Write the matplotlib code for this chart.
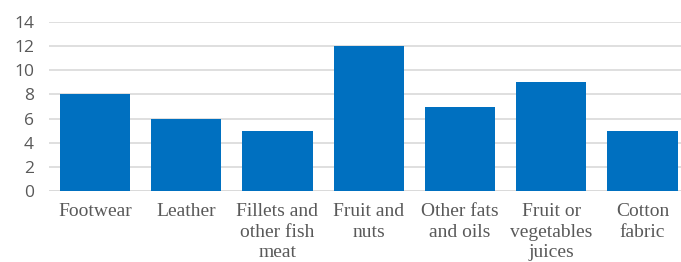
import matplotlib
matplotlib.use("Agg")
import matplotlib.pyplot as plt

categories = ["Footwear", "Leather", "Fillets and\nother fish\nmeat", "Fruit and\nnuts",
              "Other fats\nand oils", "Fruit or\nvegetables\njuices", "Cotton\nfabric"]
values = [8, 6, 5, 12, 7, 9, 5]
yticks = [0, 2, 4, 6, 8, 10, 12, 14]

W, H = 681, 262
fig = plt.figure(figsize=(W / 100, H / 100), dpi=100)
left, right = 49.4, 688.0
top, bottom = 22.0, 191.0
ax = fig.add_axes([left / W, 1 - bottom / H, (right - left) / W, (bottom - top) / H])

x = range(len(categories))
ax.bar(x, values, width=0.77, color="#0070C0", zorder=3)
ax.set_xlim(-0.5, len(categories) - 0.5)
ax.set_ylim(0, 14)
ax.set_yticks(yticks)
ax.set_yticklabels([str(t) for t in yticks], fontsize=12.5, color="#595959",
                   family=["Open Sans", "DejaVu Sans"])
ax.set_xticks(list(x))
ax.set_xticklabels(categories, fontsize=14, color="#595959",
                   family=["Liberation Serif"], linespacing=1.25, va="top")
ax.tick_params(axis="y", length=0, pad=11)
ax.tick_params(axis="x", length=0, pad=9)
ax.grid(axis="y", color="#d9d9d9", linewidth=1.2, zorder=0)
for s in ax.spines.values():
    s.set_visible(False)
ax.axhline(0, color="#d9d9d9", linewidth=1.2, zorder=1)

fig.savefig("out.png", dpi=100)
